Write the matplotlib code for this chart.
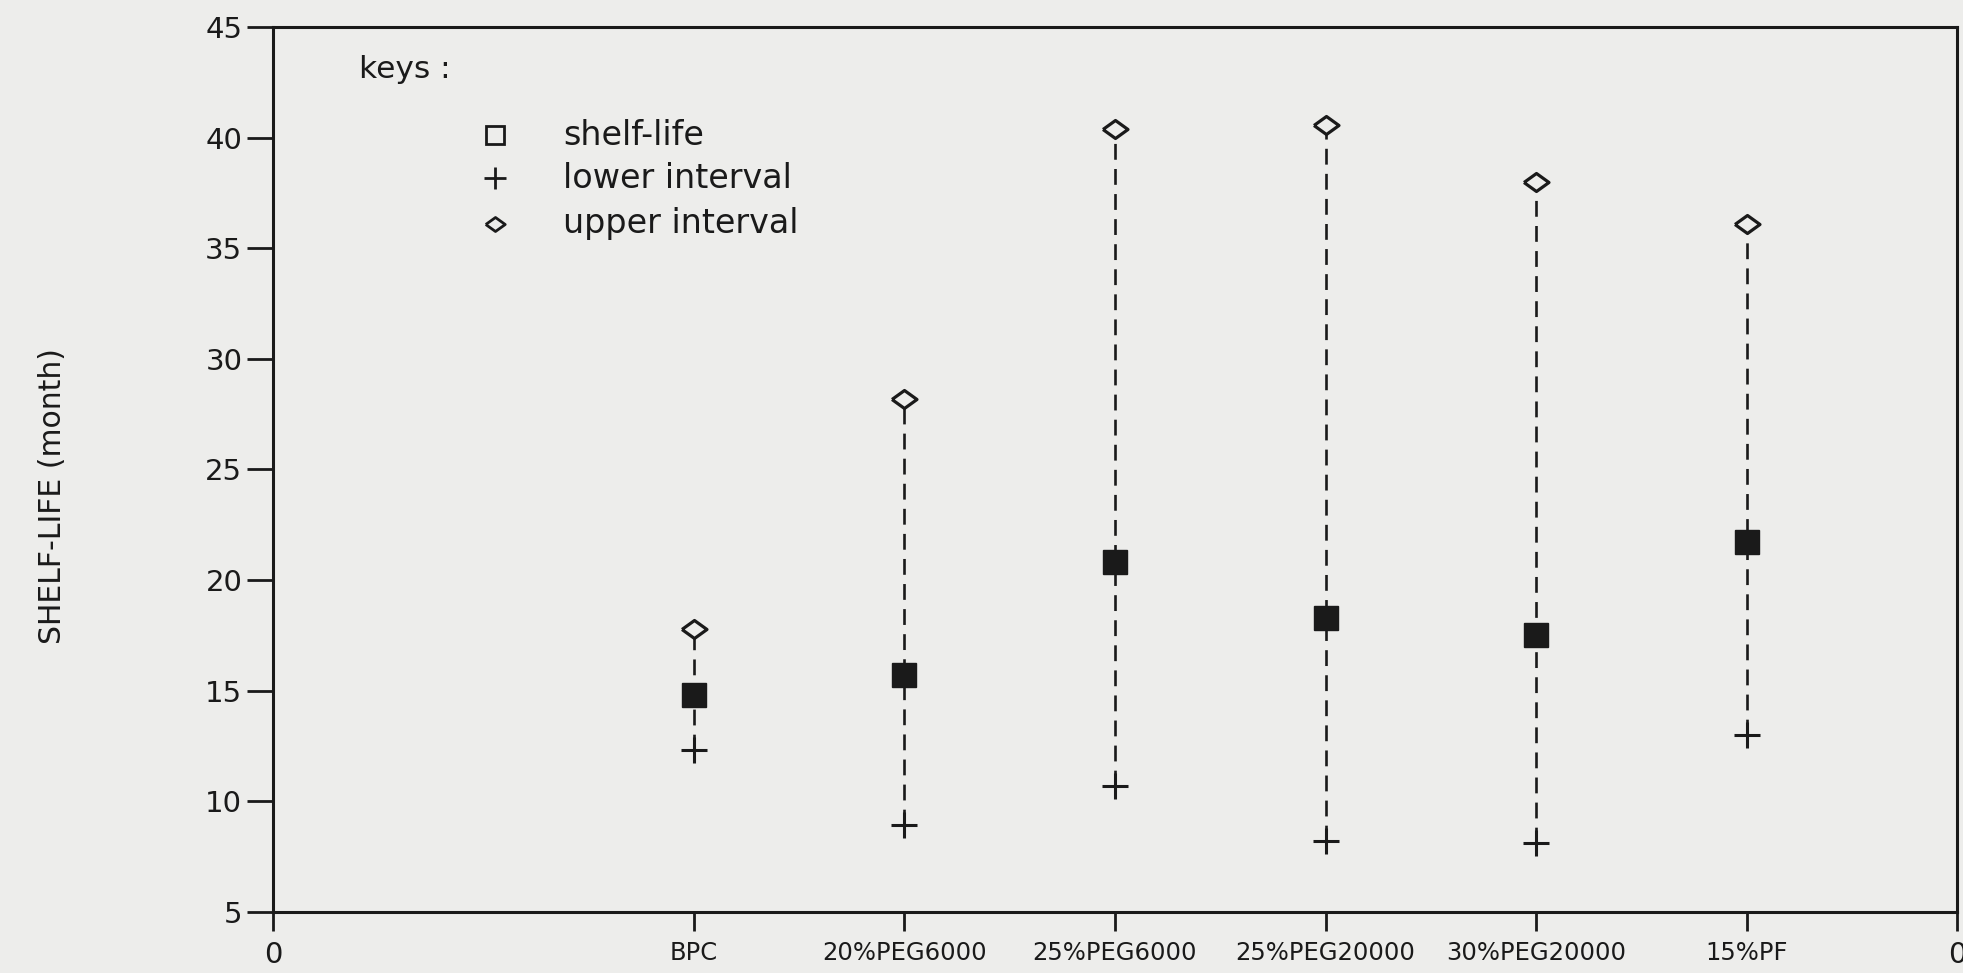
import matplotlib
matplotlib.use("Agg")
import matplotlib.pyplot as plt

# Formulations and shelf-life estimates (months)
categories = ["BPC", "20%PEG6000", "25%PEG6000", "25%PEG20000", "30%PEG20000", "15%PF"]
positions = [2, 3, 4, 5, 6, 7]
shelf_life = [14.8, 15.7, 20.8, 18.3, 17.5, 21.7]
lower_interval = [12.3, 8.9, 10.7, 8.2, 8.1, 13.0]
upper_interval = [17.8, 28.2, 40.4, 40.6, 38.0, 36.1]

x_ticks = [0] + positions + [8]
x_labels = ["0"] + categories + ["0"]
y_ticks = [5, 10, 15, 20, 25, 30, 35, 40, 45]

paper = "#ededeb"
ink = "#1a1a1a"
plt.rcParams["font.family"] = ["DejaVu Sans"]

# flattened diamond used for the upper interval
flat_diamond = [(-1.0, 0.0), (0.0, 0.72), (1.0, 0.0), (0.0, -0.72), (-1.0, 0.0)]

fig = plt.figure(figsize=(19.63, 9.73), dpi=100, facecolor=paper)
ax = fig.add_axes([0.139, 0.063, 0.858, 0.909], facecolor=paper)

# dashed interval lines
for x, lo, hi in zip(positions, lower_interval, upper_interval):
    ax.plot([x, x], [lo, hi], color=ink, lw=1.9, dashes=(6, 3.5), zorder=1)

ax.plot(positions, shelf_life, ls="none", marker="s", ms=17, color=ink, zorder=3)
ax.plot(positions, lower_interval, ls="none", marker="+", ms=19, mew=2.2, color=ink, zorder=3)
ax.plot(positions, upper_interval, ls="none", marker=flat_diamond, ms=18, mew=2.3,
        mfc=paper, mec=ink, zorder=3)

ax.set_xlim(0, 8)
ax.set_ylim(5, 45)
ax.set_xticks(x_ticks)
ax.set_xticklabels(x_labels, fontsize=17.5, color=ink)
# the end labels of the x axis share the size of the y tick labels
for lbl in (ax.get_xticklabels()[0], ax.get_xticklabels()[-1]):
    lbl.set_fontsize(21)
ax.set_yticks(y_ticks)
ax.set_yticklabels([str(v) for v in y_ticks], fontsize=21, color=ink)
ax.tick_params(axis="y", direction="out", length=19, width=2, colors=ink, pad=3)
ax.tick_params(axis="x", direction="out", length=14, width=2, colors=ink, pad=7)
for side in ["left", "right", "top", "bottom"]:
    ax.spines[side].set_linewidth(2.2)
    ax.spines[side].set_color(ink)

ax.set_ylabel("SHELF-LIFE (month)", fontsize=21.5, color=ink, va="center")
ax.yaxis.set_label_coords(-0.131, 0.47)

# key block
ax.text(0.051, 0.952, "keys :", transform=ax.transAxes, fontsize=22.5, color=ink,
        va="center", ha="left")
key_rows = [("s", "shelf-life", 0.878, dict(ms=13, mfc=paper, mec=ink, mew=2)),
            ("+", "lower interval", 0.829, dict(ms=16, mew=2, color=ink)),
            (flat_diamond, "upper interval", 0.778, dict(ms=14, mfc=paper, mec=ink, mew=2))]
for marker, label, y, style in key_rows:
    ax.plot([0.1316], [y], marker=marker, ls="none", transform=ax.transAxes,
            clip_on=False, **style)
    ax.text(0.1725, y, label, transform=ax.transAxes, fontsize=24, color=ink,
            va="center", ha="left")

fig.savefig("out.png", dpi=100, facecolor=paper)
